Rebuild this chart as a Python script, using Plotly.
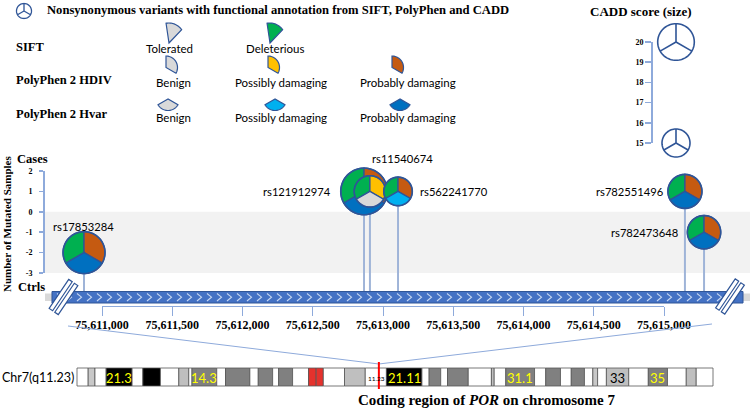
import math
import plotly.graph_objects as go

W, H = 750, 411

# ---------------- data ----------------
variant_ids = ["rs17853284", "rs121912974", "rs11540674", "rs562241770", "rs782551496", "rs782473648"]
variant_pos = [75610872, 75612865, 75612907, 75613107, 75615149, 75615285]
mutated_samples = [-2, 1, 1, 1, 1, -1]
cadd_scores = [23.1, 25.8, 17.0, 15.3, 18.5, 18.1]
sift_pred = ["Deleterious", "Deleterious", "Deleterious", "Deleterious", "Deleterious", "Deleterious"]
hdiv_pred = ["Probably damaging", "Probably damaging", "Possibly damaging",
             "Probably damaging", "Probably damaging", "Probably damaging"]
hvar_pred = ["Probably damaging", "Probably damaging", "Benign",
             "Possibly damaging", "Probably damaging", "Probably damaging"]

genome_ticks = [75611000, 75611500, 75612000, 75612500, 75613000,
                75613500, 75614000, 75614500, 75615000]
sample_ticks = [2, 1, 0, -1, -2, -3]
cadd_ticks = [15, 16, 17, 18, 19, 20]
cadd_legend_scores = [20, 15]

sift_classes = ["Tolerated", "Deleterious"]
pph_classes = ["Benign", "Possibly damaging", "Probably damaging"]

band_names = ["p22.3", "p22.2", "p22.1", "p21.3", "p21.2", "p21.1", "p15.3", "p15.2", "p15.1",
              "p14.3", "p14.2", "p14.1", "p13", "p12.3", "p12.2", "p12.1", "p11.2", "p11.1",
              "q11.1", "q11.21", "q11.22", "q11.23", "q21.11", "q21.12", "q21.13", "q21.2",
              "q21.3", "q22.1", "q22.2", "q22.3", "q31.1", "q31.2", "q31.31", "q31.32",
              "q31.33", "q32.1", "q32.2", "q32.3", "q33", "q34", "q35", "q36.1", "q36.2", "q36.3"]
band_start = [0.0, 2.8, 4.5, 7.3, 13.8, 16.5, 20.9, 25.5, 28.0, 28.8, 35.0, 37.2, 43.3, 45.4,
              49.0, 50.5, 54.0, 58.0, 59.9, 61.7, 67.0, 72.2, 77.5, 86.4, 88.2, 91.1, 92.8,
              98.0, 103.8, 104.5, 107.4, 114.6, 117.4, 121.1, 123.8, 127.1, 129.2, 130.4,
              132.6, 138.2, 143.1, 147.9, 152.6, 155.1]
band_end = band_start[1:] + [159.3]
band_stain = ["gneg", "gpos25", "gneg", "gpos100", "gneg", "gpos100", "gneg", "gpos50", "gneg",
              "gpos75", "gneg", "gpos75", "gneg", "gpos75", "gneg", "gpos75", "gneg", "acen",
              "acen", "gneg", "gpos50", "gneg", "gpos100", "gneg", "gpos75", "gneg",
              "gpos75", "gneg", "gpos50", "gneg", "gpos75", "gneg", "gpos75", "gneg",
              "gpos75", "gneg", "gpos25", "gneg", "gpos50", "gneg", "gpos75", "gneg", "gpos50", "gneg"]
chr7_length = 159.3
por_mb = 75.61
labelled_bands = ["p21.3", "p14.3", "q11.23", "q21.11", "q31.1", "q33", "q35"]
band_label_text = ["21.3", "14.3", "11.23", "21.11", "31.1", "33", "35"]

# ---------------- styles ----------------
SIFT_COL = {"Tolerated": "#d9d9d9", "Deleterious": "#00b050"}
HDIV_COL = {"Benign": "#d9d9d9", "Possibly damaging": "#ffc000", "Probably damaging": "#c55a11"}
HVAR_COL = {"Benign": "#d9d9d9", "Possibly damaging": "#00b0f0", "Probably damaging": "#0070c0"}
STAIN_COL = {"gneg": "#ffffff", "gpos25": "#c8c8c8", "gpos50": "#bfbfbf", "gpos75": "#808080",
             "gpos100": "#000000", "acen": "#e5322d"}
OUTLINE = "#2f5597"
AXIS_BLUE = "#8eaadb"
STEM = "#9fb4d8"
SERIF = "Liberation Serif"
SANS = "Lato"
# label placement for each variant: (dx px, dy px up, xanchor)
label_offsets = [(-1, 26, "center"), (-31, 0, "right"), (33, 33, "center"),
                 (20, 0, "left"), (-20, 0, "right"), (-24, 0, "right")]

# ---------------- geometry of the panels ----------------
GX0_PX, GX1_PX = 102, 664           # pixel span of the first..last genome tick
g_scale = (GX1_PX - GX0_PX) / (genome_ticks[-1] - genome_ticks[0])
x_range = [genome_ticks[0] - GX0_PX / g_scale, genome_ticks[0] + (W - GX0_PX) / g_scale]

SY_TOP, SY_BOT = 171, 273            # pixel rows of the sample axis ends
s_scale = (SY_BOT - SY_TOP) / (max(sample_ticks) - min(sample_ticks))
y_zero_px = SY_BOT + min(sample_ticks) * s_scale
y_range = [(y_zero_px - H) / s_scale, y_zero_px / s_scale]


def py_to_y(py):
    return (y_zero_px - py) / s_scale


CY_TOP, CY_BOT = 42, 143              # pixel rows of CADD 20 and 15
c_scale = (CY_BOT - CY_TOP) / (max(cadd_ticks) - min(cadd_ticks))
c15_px = CY_BOT
y4_range = [min(cadd_ticks) - (H - c15_px) / c_scale, min(cadd_ticks) + c15_px / c_scale]

CH_X0, CH_X1 = 77, 713                # ideogram pixel span
m_scale = (CH_X1 - CH_X0) / chr7_length
x3_range = [-CH_X0 / m_scale, (W - CH_X0) / m_scale]
por_px = CH_X0 + por_mb * m_scale
CH_Y0, CH_Y1 = 368, 386

BAR_X0, BAR_X1, BAR_Y0, BAR_Y1 = 52, 743, 291.5, 303


def radius(score):
    return 14.0 + (score - 15.0) * (18.3 - 14.0) / 5.0


def fx(x):
    return x / W


def fy(y):
    return 1 - y / H


def poly_path(pts, close=True):
    s = "M" + " L".join(f"{fx(x):.5f},{fy(y):.5f}" for x, y in pts)
    return s + (" Z" if close else "")


def sector(r, a0, a1, n=36, sx=1.0):
    pts = [(0.0, 0.0)]
    for i in range(n + 1):
        a = math.radians(a0 + (a1 - a0) * i / n)
        pts.append((sx * r * math.cos(a), r * math.sin(a)))
    return "M" + " L".join(f"{x:.2f},{y:.2f}" for x, y in pts) + " Z"


def circle(r, n=72):
    pts = []
    for i in range(n):
        a = 2 * math.pi * i / n
        pts.append((r * math.cos(a), r * math.sin(a)))
    return "M" + " L".join(f"{x:.2f},{y:.2f}" for x, y in pts) + " Z"


def spokes(r):
    s = ""
    for a in (90, -30, 210):
        t = math.radians(a)
        s += f"M0,0 L{r*math.cos(t):.2f},{r*math.sin(t):.2f} "
    return s.strip()


def pix(path, xref, yref, xa, ya, fill, lw=1.2, lc=OUTLINE):
    return dict(type="path", xref=xref, yref=yref, xsizemode="pixel", ysizemode="pixel",
                xanchor=xa, yanchor=ya, path=path, fillcolor=fill,
                line=dict(color=lc, width=lw), layer="above")


def mercedes(xref, yref, xa, ya, r, lw=1.4):
    return [pix(circle(r), xref, yref, xa, ya, "white", lw),
            pix(spokes(r), xref, yref, xa, ya, "rgba(0,0,0,0)", lw)]


shapes = []
annotations = []


def text(x, y, s, size, family=SANS, color="black", xanchor="center", yanchor="middle",
         xref="paper", yref="paper", angle=0, xshift=0, yshift=0):
    annotations.append(dict(x=x, y=y, xref=xref, yref=yref, text=s, showarrow=False,
                            font=dict(family=family, size=size, color=color),
                            xanchor=xanchor, yanchor=yanchor, textangle=angle,
                            xshift=xshift, yshift=yshift))


# ---------------- top legend ----------------
shapes += mercedes("paper", "paper", fx(24), fy(11), 7.5, 1.3)
text(fx(45), fy(10), "<b>Nonsynonymous variants with functional annotation from SIFT, PolyPhen and CADD</b>",
     12.6, SERIF, xanchor="left")
text(fx(14), fy(47), "<b>SIFT</b>", 12.5, SERIF, xanchor="left")
text(fx(14), fy(80), "<b>PolyPhen 2 HDIV</b>", 12.5, SERIF, xanchor="left")
text(fx(14), fy(114), "<b>PolyPhen 2 Hvar</b>", 12.5, SERIF, xanchor="left")

sift_glyph_x = [169, 270]
for cls, gx in zip(sift_classes, sift_glyph_x):
    shapes.append(pix(sector(20, 42, 100, sx=0.85), "paper", "paper", fx(gx), fy(43), SIFT_COL[cls], 1.2))
sift_label_x = [169, 275]
for cls, lx in zip(sift_classes, sift_label_x):
    text(fx(lx), fy(49), cls, 11.5)

hdiv_glyph_x = [166, 268, 392]
for cls, gx in zip(pph_classes, hdiv_glyph_x):
    shapes.append(pix(sector(11.5, 90, -30), "paper", "paper", fx(gx), fy(67.5), HDIV_COL[cls], 1.2))
pph_label_x = [173, 281, 408]
for cls, lx in zip(pph_classes, pph_label_x):
    text(fx(lx), fy(83), cls, 11.5)

hvar_glyph_x = [168, 275, 400]
for cls, gx in zip(pph_classes, hvar_glyph_x):
    shapes.append(pix(sector(11.5, 210, 330), "paper", "paper", fx(gx), fy(99), HVAR_COL[cls], 1.2))
for cls, lx in zip(pph_classes, pph_label_x):
    text(fx(lx), fy(118), cls, 11.5)

# CADD size legend
text(fx(641), fy(12), "<b>CADD score (size)</b>", 13, SERIF)
for sc in cadd_legend_scores:
    shapes += mercedes("paper", "y4", fx(676), sc, radius(sc), 1.6)

# ---------------- lollipop panel ----------------
shapes.append(dict(type="rect", xref="paper", yref="y2", x0=fx(45), x1=1, y0=0, y1=min(sample_ticks),
                   fillcolor="#f2f2f2", line=dict(width=0), layer="below"))
text(fx(32), fy(159), "<b>Cases</b>", 12.5, SERIF)
text(fx(31), fy(287), "<b>Ctrls</b>", 12.5, SERIF)
text(fx(7), fy(224), "<b>Number of Mutated Samples</b>", 11, SERIF, angle=-90)

ybar = py_to_y(BAR_Y0)
for pos, n in zip(variant_pos, mutated_samples):
    shapes.append(dict(type="line", xref="x", yref="y", x0=pos, x1=pos, y0=n, y1=ybar,
                       line=dict(color=STEM, width=2), layer="above"))

# gene bar with chevrons
shapes.append(dict(type="path", path=poly_path([(45, 293.5), (BAR_X0, 293.5), (BAR_X0, 301), (45, 301)]),
                   xref="paper", yref="paper", fillcolor="#d9d9d9", line=dict(width=0), layer="above"))
shapes.append(dict(type="path", path=poly_path([(BAR_X1, 293.5), (750, 293.5), (750, 301), (BAR_X1, 301)]),
                   xref="paper", yref="paper", fillcolor="#d9d9d9", line=dict(width=0), layer="above"))
shapes.append(dict(type="path", path=poly_path([(BAR_X0, BAR_Y0), (BAR_X1, BAR_Y0), (BAR_X1, BAR_Y1), (BAR_X0, BAR_Y1)]),
                   xref="paper", yref="paper", fillcolor="#4472c4", line=dict(color=OUTLINE, width=1),
                   layer="above"))
chev = ""
cx = BAR_X0 + 5
while cx < BAR_X1 - 8:
    chev += poly_path([(cx, 293.5), (cx + 4.5, 297.2), (cx, 301)], close=False) + " "
    cx += 10
shapes.append(dict(type="path", path=chev.strip(), xref="paper", yref="paper",
                   fillcolor="rgba(0,0,0,0)", line=dict(color="#c5d5f0", width=1.1), layer="above"))

# break marks
ang = math.radians(56)
u = (math.cos(ang), -math.sin(ang))
nrm = (math.sin(ang), math.cos(ang))


def stripe(c, off, L, w):
    cx_, cy_ = c[0] + nrm[0] * off, c[1] + nrm[1] * off
    hx, hy = u[0] * L / 2, u[1] * L / 2
    wx, wy = nrm[0] * w / 2, nrm[1] * w / 2
    return [(cx_ - hx - wx, cy_ - hy - wy), (cx_ + hx - wx, cy_ + hy - wy),
            (cx_ + hx + wx, cy_ + hy + wy), (cx_ - hx + wx, cy_ - hy + wy)]


for c in [(63.5, 297), (730, 296.5)]:
    shapes.append(dict(type="path", path=poly_path(stripe(c, 0, 30, 10)), xref="paper", yref="paper",
                       fillcolor="white", line=dict(width=0), layer="above"))
    for off in (-3.4, 3.4):
        shapes.append(dict(type="path", path=poly_path(stripe(c, off, 35, 4.2)), xref="paper", yref="paper",
                           fillcolor="white", line=dict(color=OUTLINE, width=1.2), layer="above"))

# pies
sectors = [(90, 210), (-30, 90), (210, 330)]
for pos, n, sc, s1, s2, s3 in zip(variant_pos, mutated_samples, cadd_scores, sift_pred, hdiv_pred, hvar_pred):
    r = radius(sc)
    for (a0, a1), col in zip(sectors, [SIFT_COL[s1], HDIV_COL[s2], HVAR_COL[s3]]):
        shapes.append(pix(sector(r, a0, a1), "x", "y", pos, n, col, 1.3))
    shapes.append(pix(circle(r), "x", "y", pos, n, "rgba(0,0,0,0)", 1.6))

for vid, pos, n, (dx, dy, xa) in zip(variant_ids, variant_pos, mutated_samples, label_offsets):
    text(pos, n, vid, 11.2, xref="x", yref="y", xanchor=xa, xshift=dx, yshift=dy)

# ---------------- zoom lines and ideogram ----------------
for sx_, sy_ in [(68, 326), (712, 324)]:
    shapes.append(dict(type="path", path=poly_path([(sx_, sy_), (por_px, 364)], close=False),
                       xref="paper", yref="paper", line=dict(color=AXIS_BLUE, width=1), layer="above"))

for b0, b1, st in zip(band_start, band_end, band_stain):
    shapes.append(dict(type="rect", xref="x3", yref="paper", x0=b0, x1=b1, y0=fy(CH_Y1), y1=fy(CH_Y0),
                       fillcolor=STAIN_COL[st], line=dict(color="#555555", width=0.8), layer="above"))
shapes.append(dict(type="line", xref="x3", yref="paper", x0=por_mb, x1=por_mb, y0=fy(389), y1=fy(362),
                   line=dict(color="#ff0000", width=2), layer="above"))

for name, lab in zip(labelled_bands, band_label_text):
    i = band_names.index(name)
    col = "#ffff00" if band_stain[i] in ("gpos100", "gpos75") else "black"
    if lab == "11.23":
        text(band_start[i], fy(378), lab, 6.5, xref="x3", xanchor="left", xshift=1)
    else:
        text((band_start[i] + band_end[i]) / 2, fy(377.5), lab, 13, color=col, xref="x3")

text(fx(76), fy(377), "Chr7(q11.23)", 12.5, xanchor="right")
text(fx(486), fy(400), "<b>Coding region of <i>POR</i> on chromosome 7</b>", 15, SERIF)

# ---------------- figure ----------------
fig = go.Figure()
for xa, ya, xv, yv in [("x", "y", variant_pos[0], 0), ("x2", "y", genome_ticks[0], 0),
                       ("x", "y2", variant_pos[0], 0), ("x", "y3", variant_pos[0], 17),
                       ("x", "y4", variant_pos[0], 17), ("x3", "y", 10, 0)]:
    fig.add_trace(go.Scatter(x=[xv], y=[yv], xaxis=xa, yaxis=ya, mode="markers",
                             marker=dict(opacity=0, size=1), showlegend=False, hoverinfo="skip"))

tickfont_small = dict(family=SERIF, size=8, color="black", weight="bold")
fig.update_layout(
    template="none",
    width=W, height=H, margin=dict(l=0, r=0, t=0, b=0, pad=0, autoexpand=False),
    paper_bgcolor="white", plot_bgcolor="rgba(0,0,0,0)", showlegend=False, hovermode=False,
    xaxis=dict(domain=[0, 1], range=x_range, visible=False, anchor="y", automargin=False),
    yaxis=dict(domain=[0, 1], range=y_range, visible=False, anchor="x", automargin=False),
    xaxis3=dict(domain=[0, 1], range=x3_range, visible=False, anchor="y", automargin=False),
    yaxis4=dict(domain=[0, 1], range=y4_range, visible=False, anchor="x", automargin=False),
    xaxis2=dict(domain=[fx(GX0_PX), fx(GX1_PX)], range=[genome_ticks[0], genome_ticks[-1]],
                anchor="free", position=fy(306), side="bottom", showline=True, linecolor=AXIS_BLUE,
                linewidth=1, ticks="outside", ticklen=9, tickcolor=AXIS_BLUE, tickwidth=1,
                tickvals=genome_ticks, ticktext=[f"{v:,}" for v in genome_ticks],
                tickfont=dict(family=SERIF, size=12, color="black", weight="bold"),
                ticklabelstandoff=-1,
                showgrid=False, zeroline=False, automargin=False),
    yaxis2=dict(domain=[fy(SY_BOT), fy(SY_TOP)], range=[min(sample_ticks), max(sample_ticks)],
                anchor="free", position=fx(43), side="left", showline=True, linecolor=AXIS_BLUE,
                linewidth=1.5, ticks="outside", ticklen=4, tickcolor=AXIS_BLUE, tickwidth=1.5,
                tickvals=sample_ticks, ticktext=[str(v) for v in sample_ticks], tickfont=tickfont_small,
                ticklabelstandoff=5, showgrid=False, zeroline=False, automargin=False),
    yaxis3=dict(domain=[fy(CY_BOT), fy(CY_TOP)], range=[min(cadd_ticks), max(cadd_ticks)],
                anchor="free", position=fx(651), side="left", showline=True, linecolor=AXIS_BLUE,
                linewidth=1.5, ticks="outside", ticklen=6, tickcolor=AXIS_BLUE, tickwidth=1.5,
                tickvals=cadd_ticks, ticktext=[str(v) for v in cadd_ticks], tickfont=tickfont_small,
                showgrid=False, zeroline=False, automargin=False),
    shapes=shapes, annotations=annotations,
)

fig.write_html("out.html", config={"displayModeBar": False, "staticPlot": True},
               post_script="document.body.style.margin='0';document.body.style.overflow='hidden';")
